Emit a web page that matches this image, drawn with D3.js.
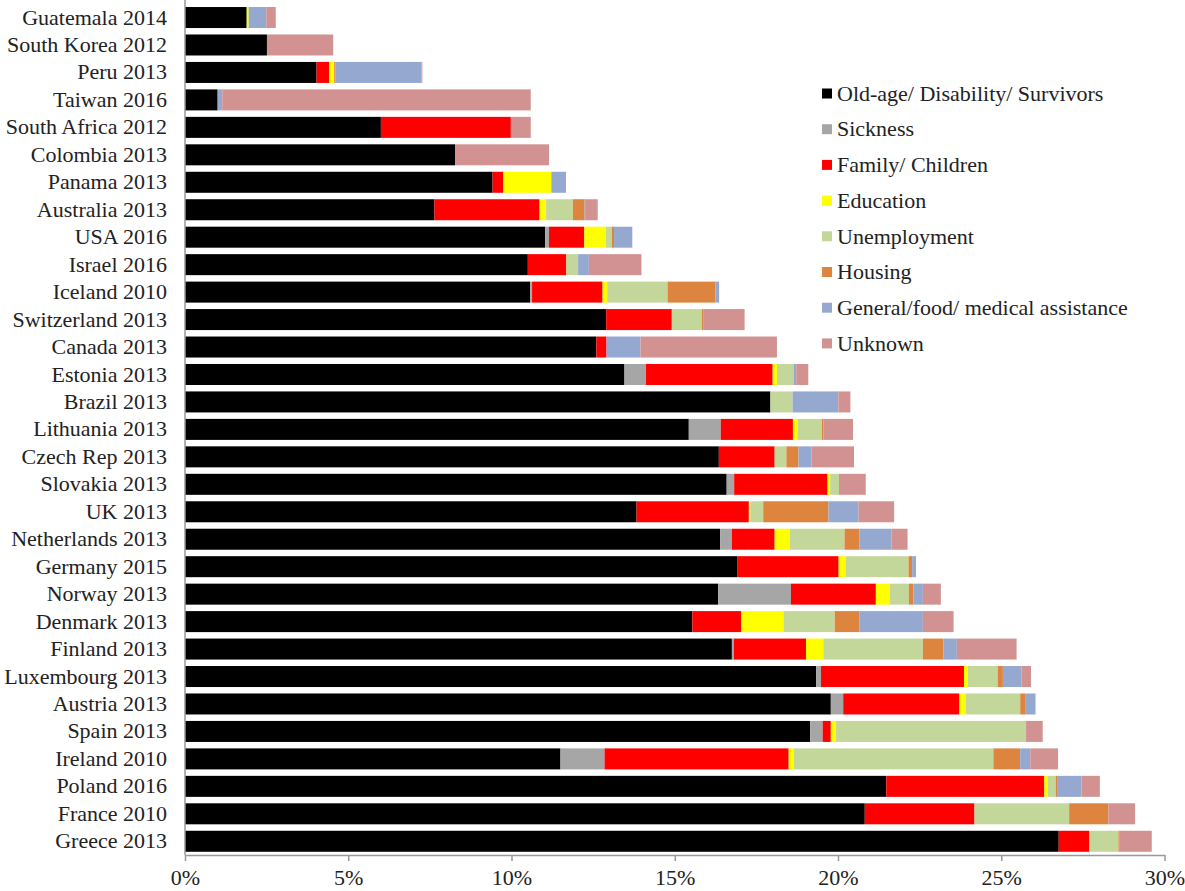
<!DOCTYPE html>
<html>
<head>
<meta charset="utf-8">
<script src="https://cdn.jsdelivr.net/npm/d3@7"></script>
<style>
	body { margin: 0; background: #fff; }
	text { font-family: 'Liberation Serif', 'Times New Roman', serif; fill: #222; }
</style>
</head>
<body>
<div class="chart"></div>
<script>
// countries, top to bottom
const countries = [
	'Guatemala 2014', 'South Korea 2012', 'Peru 2013', 'Taiwan 2016', 'South Africa 2012', 'Colombia 2013',
	'Panama 2013', 'Australia 2013', 'USA 2016', 'Israel 2016', 'Iceland 2010', 'Switzerland 2013',
	'Canada 2013', 'Estonia 2013', 'Brazil 2013', 'Lithuania 2013', 'Czech Rep 2013', 'Slovakia 2013',
	'UK 2013', 'Netherlands 2013', 'Germany 2015', 'Norway 2013', 'Denmark 2013', 'Finland 2013',
	'Luxembourg 2013', 'Austria 2013', 'Spain 2013', 'Ireland 2010', 'Poland 2016', 'France 2010', 'Greece 2013'
];

const categories = [
	'Old-age/ Disability/ Survivors', 'Sickness', 'Family/ Children', 'Education',
	'Unemployment', 'Housing', 'General/food/ medical assistance', 'Unknown'
];
const colors = [ '#000000', '#a6a6a6', '#ff0000', '#ffff00', '#c4d79b', '#dd843e', '#95a9d0', '#d29291' ];

// % of GDP, one array per category, same order as countries
const oldAge = [
	1.89, 2.51, 4.03, 1.0, 6.0, 8.27, 9.42, 7.64, 11.03, 10.5, 10.57, 12.9, 12.6, 13.46, 17.93, 15.43,
	16.35, 16.59, 13.83, 16.39, 16.91, 16.33, 15.54, 16.75, 19.33, 19.78, 19.15, 11.5, 21.48, 20.82, 26.76
];
const sickness = [
	0, 0, 0, 0, 0, 0, 0, 0, 0.12, 0, 0.06, 0, 0, 0.66, 0, 0.98,
	0, 0.23, 0, 0.36, 0, 2.23, 0, 0.06, 0.15, 0.38, 0.38, 1.35, 0, 0, 0
];
const family = [
	0, 0, 0.39, 0, 3.98, 0, 0.33, 3.22, 1.08, 1.18, 2.16, 2.01, 0.31, 3.88, 0, 2.21,
	1.71, 2.86, 3.44, 1.31, 3.11, 2.6, 1.5, 2.21, 4.38, 3.56, 0.25, 5.64, 4.84, 3.36, 0.94
];
const education = [
	0.06, 0, 0.15, 0, 0, 0, 1.47, 0.2, 0.66, 0, 0.14, 0, 0, 0.13, 0, 0.14,
	0, 0.08, 0.05, 0.46, 0.21, 0.42, 1.29, 0.53, 0.12, 0.19, 0.16, 0.16, 0.1, 0, 0
];
const unemployment = [
	0, 0, 0, 0, 0, 0, 0, 0.82, 0.18, 0.36, 1.85, 0.92, 0, 0.51, 0.68, 0.75,
	0.36, 0.27, 0.39, 1.68, 1.93, 0.59, 1.57, 3.05, 0.91, 1.67, 5.82, 6.11, 0.25, 2.9, 0.89
];
const housing = [
	0, 0, 0.03, 0, 0, 0, 0, 0.36, 0.07, 0, 1.46, 0.04, 0, 0, 0, 0.04,
	0.37, 0, 2.0, 0.46, 0.11, 0.14, 0.75, 0.63, 0.16, 0.15, 0, 0.82, 0.04, 1.2, 0.04
];
const assistance = [
	0.54, 0, 2.64, 0.14, 0, 0, 0.42, 0.04, 0.56, 0.33, 0.12, 0, 1.04, 0.08, 1.4, 0,
	0.4, 0, 0.92, 0.98, 0.12, 0.29, 1.95, 0.41, 0.57, 0.32, 0, 0.31, 0.75, 0, 0
];
const unknown = [
	0.29, 2.03, 0.03, 9.45, 0.61, 2.88, 0.03, 0.36, 0, 1.61, 0, 1.27, 4.18, 0.37, 0.37, 0.91,
	1.3, 0.82, 1.09, 0.49, 0, 0.55, 0.94, 1.83, 0.29, 0, 0.51, 0.85, 0.56, 0.82, 0.98
];

const xTicks = [ 0, 5, 10, 15, 20, 25, 30 ];

const series = [ oldAge, sickness, family, education, unemployment, housing, assistance, unknown ];

// table for d3.stack
const rows = countries.map((c, i) => {
	const r = { country: c };
	categories.forEach((k, j) => {
		r[k] = series[j][i];
	});
	return r;
});

const width = 1185;
const height = 891;
const left = 185;
const right = 1164.5;
const plotTop = 3.8;
const plotBottom = 855;

const svg = d3.select('.chart').append('svg').attr('width', width).attr('height', height);

const x = d3.scaleLinear().domain([ 0, 30 ]).range([ left, right ]);
const y = d3.scaleBand().domain(countries).range([ plotTop, plotBottom ]).paddingInner(0.235).paddingOuter(0.1175);
const color = d3.scaleOrdinal().domain(categories).range(colors);

const stacked = d3.stack().keys(categories)(rows);

// bars
svg
	.append('g')
	.selectAll('g')
	.data(stacked)
	.enter()
	.append('g')
	.attr('fill', (d) => color(d.key))
	.selectAll('rect')
	.data((d) => d)
	.enter()
	.append('rect')
	.attr('x', (d) => x(d[0]))
	.attr('y', (d) => y(d.data.country))
	.attr('width', (d) => Math.max(0, x(d[1]) - x(d[0])))
	.attr('height', y.bandwidth());

// x axis
const xAxis = d3
	.axisBottom(x)
	.tickValues(xTicks)
	.tickSize(6)
	.tickSizeOuter(0)
	.tickPadding(8)
	.tickFormat((d) => d + '%');
const gx = svg.append('g').attr('transform', 'translate(0,' + plotBottom + ')').call(xAxis);
gx.select('.domain').attr('stroke', '#999').attr('stroke-width', 1.5);
gx.selectAll('.tick line').attr('stroke', '#999').attr('stroke-width', 1.5);
gx.selectAll('.tick text').style('font-size', '22px').attr('fill', '#222');

// y axis, labels only
const yAxis = d3.axisLeft(y).tickSize(0).tickPadding(18);
const gy = svg.append('g').attr('transform', 'translate(' + left + ',0)').call(yAxis);
gy.select('.domain').attr('stroke', '#999').attr('stroke-width', 1.5).attr('d', 'M0,0V' + plotBottom);
gy.selectAll('.tick text').style('font-size', '22px').attr('fill', '#222');

// legend
const legend = svg
	.append('g')
	.selectAll('g')
	.data(categories)
	.enter()
	.append('g')
	.attr('transform', (d, i) => 'translate(822,' + (93.5 + i * 35.7) + ')');
legend.append('rect').attr('x', 0).attr('y', -5).attr('width', 10).attr('height', 10).attr('fill', (d) => color(d));
legend
	.append('text')
	.attr('x', 15)
	.attr('y', 0)
	.attr('dy', '0.33em')
	.style('font-size', '22px')
	.text((d) => d);
</script>
</body>
</html>
